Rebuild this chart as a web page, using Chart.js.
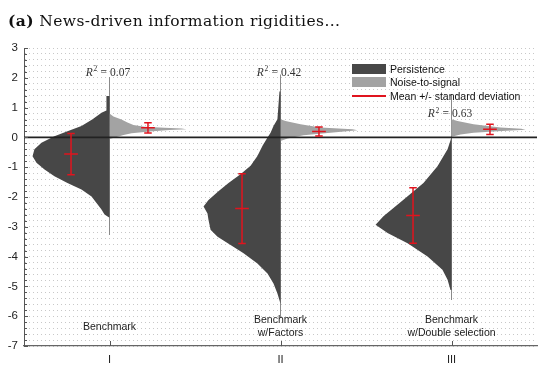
<!DOCTYPE html>
<html><head><meta charset="utf-8">
<script src="https://cdn.jsdelivr.net/npm/chart.js@4.4.1/dist/chart.umd.min.js"></script>
<style>
html,body{margin:0;padding:0;background:#fff;}
#wrap{position:relative;width:549px;height:372px;overflow:hidden;}
#title{position:absolute;left:8px;top:13px;font-family:'DejaVu Serif',serif;font-size:15.5px;line-height:16px;letter-spacing:0.4px;white-space:nowrap;color:#111;}
#legend{position:absolute;left:352px;top:62px;font-family:'Liberation Sans',Arial,sans-serif;font-size:10.5px;color:#111;}
.row{display:flex;align-items:center;height:13.5px;white-space:nowrap;}
.sw{display:inline-block;width:34px;height:10px;margin-right:4px;}
.ln{height:1.5px;}
</style></head>
<body><div id="wrap"><canvas id="c" width="549" height="372"></canvas>
<div id="title"><b>(a)</b> News-driven information rigidities...</div>
<div id="legend">
 <div class="row"><span class="sw" style="background:#474747"></span>Persistence</div>
 <div class="row"><span class="sw" style="background:#a3a3a3"></span>Noise-to-signal</div>
 <div class="row"><span class="sw ln" style="background:#e0141e"></span>Mean +/- standard deviation</div>
</div></div>
<script>
// ---- data ----
const categories = ['I', 'II', 'III'];
const specNames = [['Benchmark'], ['Benchmark', 'w/Factors'], ['Benchmark', 'w/Double selection']];
const r2Values = ['0.07', '0.42', '0.63'];
const r2LabelY = [2.2, 2.2, 0.81];
const yTickLabels = [3, 2, 1, 0, -1, -2, -3, -4, -5, -6, -7];

// Persistence distributions (levels, half-widths in category units)
const persLevelsI = [1.39, 0.90, 0.83, 0.61, 0.38, 0.21, 0.04, -0.18, -0.40, -0.63, -0.85, -1.08, -1.30, -1.53, -1.75, -1.98, -2.20, -2.42, -2.59, -2.70];
const persWidthI  = [0.018, 0.018, 0.047, 0.099, 0.164, 0.246, 0.322, 0.398, 0.439, 0.450, 0.427, 0.380, 0.322, 0.246, 0.164, 0.105, 0.076, 0.047, 0.029, 0];
const persLevelsII = [1.55, 0.61, 0.38, 0.16, 0.00, -0.28, -0.62, -0.95, -1.24, -1.53, -1.81, -2.10, -2.32, -2.55, -2.77, -3.10, -3.33, -3.61, -3.89, -4.23, -4.57, -4.90, -5.24, -5.58];
const persWidthII  = [0.006, 0.018, 0.041, 0.058, 0.076, 0.105, 0.135, 0.175, 0.234, 0.304, 0.363, 0.421, 0.450, 0.427, 0.421, 0.409, 0.368, 0.292, 0.216, 0.135, 0.076, 0.041, 0.018, 0];
const persLevelsIII = [0.04, -0.10, -0.40, -0.97, -1.53, -2.09, -2.65, -2.93, -3.21, -3.55, -4.00, -4.44, -4.78, -5.12];
const persWidthIII  = [0, 0.006, 0.023, 0.082, 0.164, 0.281, 0.398, 0.444, 0.374, 0.257, 0.140, 0.053, 0.023, 0.006];

// Noise-to-signal distributions
const noiseLevelsI = [0.80, 0.70, 0.60, 0.50, 0.42, 0.36, 0.32, 0.30, 0.27, 0.25, 0.20, 0.14, 0.08, 0.02, -0.05];
const noiseWidthI  = [0, 0.023, 0.070, 0.105, 0.140, 0.205, 0.322, 0.421, 0.450, 0.351, 0.234, 0.129, 0.082, 0.047, 0];
const noiseLevelsII = [0.61, 0.55, 0.44, 0.33, 0.27, 0.24, 0.16, 0.07, -0.04, -0.12];
const noiseWidthII  = [0, 0.029, 0.117, 0.234, 0.421, 0.450, 0.292, 0.135, 0.041, 0];
const noiseLevelsIII = [0.61, 0.55, 0.44, 0.33, 0.29, 0.26, 0.21, 0.16, 0.10, 0.02];
const noiseWidthIII  = [0, 0.035, 0.129, 0.287, 0.409, 0.433, 0.269, 0.129, 0.053, 0];

// Extreme tails (thin line at each category)
const tailTop = [2.02, 2.10, 1.45];
const tailBottom = [-3.27, -6.05, -5.45];

// Mean +/- standard deviation
const persMean = [-0.56, -2.39, -2.62];
const persSd   = [0.69, 1.17, 0.93];
const noiseMean = [0.32, 0.20, 0.27];
const noiseSd   = [0.17, 0.15, 0.17];

// ---- styles ----
const PERS_COLOR = '#474747';
const NOISE_COLOR = '#a3a3a3';
const RED = '#e0141e';
const BAR_OFFSET = 0.225, CAP_HALF = 0.022, MEAN_HALF = 0.04;

const persLevels = [persLevelsI, persLevelsII, persLevelsIII];
const persWidths = [persWidthI, persWidthII, persWidthIII];
const noiseLevels = [noiseLevelsI, noiseLevelsII, noiseLevelsIII];
const noiseWidths = [noiseWidthI, noiseWidthII, noiseWidthIII];

function violin(levels, widths, center, side, color) {
  return {
    data: levels.map((v, i) => ({x: center + side * widths[i], y: v})),
    fill: {value: center}, backgroundColor: color, borderColor: 'rgba(0,0,0,0)',
    borderWidth: 1, pointRadius: 0, tension: 0, order: 3
  };
}
function errorBar(center, m, s) {
  const pts = [
    [center - CAP_HALF, m + s], [center + CAP_HALF, m + s], [center, m + s], [center, m],
    [center - MEAN_HALF, m], [center + MEAN_HALF, m], [center, m], [center, m - s],
    [center - CAP_HALF, m - s], [center + CAP_HALF, m - s]
  ];
  return {data: pts.map(p => ({x: p[0], y: p[1]})), borderColor: RED, borderWidth: 1.5,
          fill: false, pointRadius: 0, tension: 0, order: 1};
}

const datasets = [];
categories.forEach((c, i) => {
  const center = i + 1;
  datasets.push({data: [{x: center, y: tailTop[i]}, {x: center, y: tailBottom[i]}],
    borderColor: '#8a8a8a', borderWidth: 1, pointRadius: 0, fill: false, order: 4});
  datasets.push(violin(persLevels[i], persWidths[i], center, -1, PERS_COLOR));
  datasets.push(violin(noiseLevels[i], noiseWidths[i], center, 1, NOISE_COLOR));
  datasets.push(errorBar(center - BAR_OFFSET, persMean[i], persSd[i]));
  datasets.push(errorBar(center + BAR_OFFSET, noiseMean[i], noiseSd[i]));
});
datasets.push({data: [{x: 0.5, y: 0}, {x: 3.5, y: 0}], borderColor: '#222', borderWidth: 1.6,
  pointRadius: 0, fill: false, order: 2});

function drawR2(ctx, cx, cy, val) {
  const fR = 'italic 11.5px "Liberation Serif", serif';
  const fS = '7.5px "Liberation Serif", serif';
  const fN = '11.5px "Liberation Serif", serif';
  const wSp = 3.2;
  ctx.font = fR; const wR = ctx.measureText('R').width;
  ctx.font = fS; const wS = ctx.measureText('2').width;
  ctx.font = fN; const wEq = ctx.measureText('=').width; const wV = ctx.measureText(val).width;
  const total = wR + 0.6 + wS + wSp + wEq + wSp + wV;
  let x0 = cx - 1.5 - total / 2;
  const base = cy + 4;
  ctx.fillStyle = '#333'; ctx.textAlign = 'left'; ctx.textBaseline = 'alphabetic';
  ctx.font = fR; ctx.fillText('R', x0, base); x0 += wR + 0.6;
  ctx.font = fS; ctx.fillText('2', x0, base - 4.5); x0 += wS + wSp;
  ctx.font = fN; ctx.fillText('=', x0, base); x0 += wEq + wSp;
  ctx.fillText(val, x0, base);
}

const decor = {
  id: 'decor',
  afterDraw(chart) {
    const {ctx, chartArea: a} = chart;
    const x = chart.scales.x, y = chart.scales.y;
    ctx.save();
    ctx.strokeStyle = '#555'; ctx.lineWidth = 1;
    y.ticks.forEach(t => {
      const py = Math.round(y.getPixelForValue(t.value)) + 0.5;
      const major = t.label !== '';
      ctx.beginPath(); ctx.moveTo(a.left, py); ctx.lineTo(a.left + (major ? 4 : 3), py); ctx.stroke();
    });
    x.ticks.forEach(t => {
      const px = Math.round(x.getPixelForValue(t.value)) + 0.5;
      ctx.beginPath(); ctx.moveTo(px, a.bottom); ctx.lineTo(px, a.bottom - 5); ctx.stroke();
    });
    categories.forEach((c, i) => {
      drawR2(ctx, x.getPixelForValue(i + 1), y.getPixelForValue(r2LabelY[i]), r2Values[i]);
    });
    ctx.font = '10.5px "Liberation Sans", Arial, sans-serif';
    ctx.fillStyle = '#222'; ctx.textAlign = 'center'; ctx.textBaseline = 'middle';
    specNames.forEach((lines, i) => {
      const px = x.getPixelForValue(i + 1);
      const pyc = y.getPixelForValue(-6.36);
      lines.forEach((ln, j) => {
        ctx.fillText(ln, px, pyc + (j - (lines.length - 1) / 2) * 13);
      });
    });
    ctx.restore();
  }
};

new Chart(document.getElementById('c'), {
  type: 'line',
  data: {datasets},
  plugins: [decor],
  options: {
    indexAxis: 'y',
    responsive: false,
    animation: false,
    devicePixelRatio: 1,
    layout: {padding: {top: 48, right: 12, left: 0, bottom: 0}},
    plugins: {legend: {display: false}, tooltip: {enabled: false}},
    scales: {
      x: {
        type: 'linear', min: 0.5, max: 3.5,
        afterBuildTicks: s => { s.ticks = categories.map((c, i) => ({value: i + 1})); },
        afterFit: s => { s.height = 26; },
        grid: {display: false, drawTicks: false},
        border: {display: true, color: '#666', width: 1.2},
        ticks: {callback: v => categories[Math.round(v) - 1], padding: 7, color: '#222', autoSkip: false, maxRotation: 0,
                font: {family: '"Liberation Sans", Arial, sans-serif', size: 11}}
      },
      y: {
        type: 'linear', min: -7, max: 3,
        afterBuildTicks: s => {
          const t = [];
          for (let k = -35; k <= 15; k++) t.push({value: k / 5});
          s.ticks = t;
        },
        afterFit: s => { s.width = 24; },
        grid: {color: '#c8c8c8', lineWidth: 1, drawTicks: false},
        border: {display: true, color: '#555', width: 1, dash: [1, 3]},
        ticks: {
          autoSkip: false, padding: 6, color: '#222',
          font: {family: '"Liberation Sans", Arial, sans-serif', size: 11.5},
          callback: v => { const r = Math.round(v * 10) / 10; return yTickLabels.includes(r) ? String(r) : ''; }
        }
      }
    }
  }
});
</script>
</body></html>
